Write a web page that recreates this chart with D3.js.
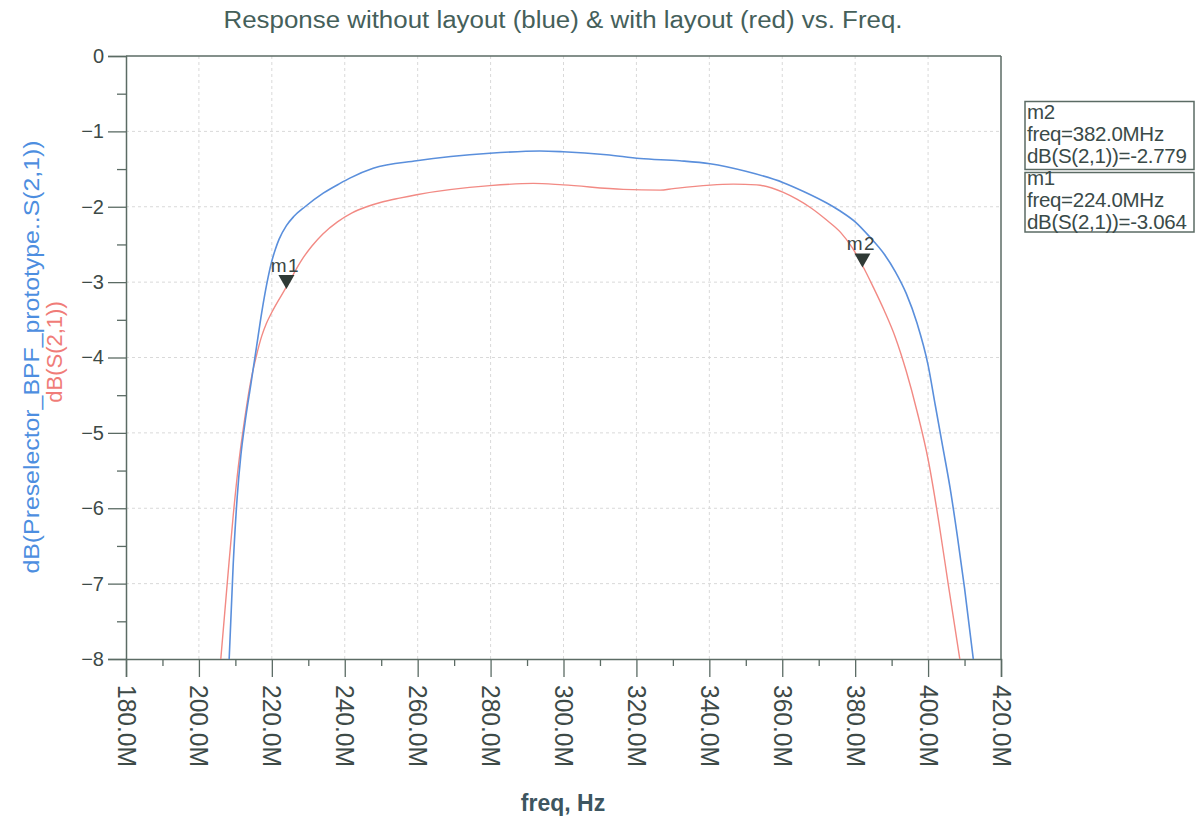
<!DOCTYPE html>
<html><head><meta charset="utf-8">
<script src="https://cdn.jsdelivr.net/npm/d3@7"></script>
<style>body{margin:0;background:#fff;font-family:"Liberation Sans",Arial,sans-serif;}</style>
</head><body>
<svg id="c" width="1202" height="820"></svg>
<script>
// Frequencies in MHz, values in dB
const blueFreq = [208.3,209.4,210.5,211.5,212.6,214.3,215.8,217.2,219.0,220.0,221.0,222.0,224.0,226.0,229.1,234.1,238.7,241.4,247.8,259.7,279.8,293.5,299.9,311.8,321.0,331.9,340.2,350.0,360.3,366.0,372.2,376.0,380.0,384.0,388.0,391.0,394.0,397.0,400.0,402.0,404.0,406.0,408.0,410.0,412.4];
const blueDb   = [-8.0,-6.75,-5.85,-5.3,-4.88,-4.34,-3.86,-3.41,-2.93,-2.72,-2.56,-2.43,-2.25,-2.13,-2.0,-1.82,-1.69,-1.62,-1.49,-1.39,-1.29,-1.26,-1.27,-1.31,-1.36,-1.39,-1.43,-1.53,-1.68,-1.8,-1.95,-2.06,-2.2,-2.4,-2.63,-2.86,-3.15,-3.55,-4.1,-4.64,-5.18,-5.72,-6.36,-7.06,-8.0];
const redFreq  = [206.0,207.9,209.4,210.8,212.6,214.2,215.8,217.2,218.5,220.0,224.0,228.0,231.0,234.0,238.0,242.0,246.0,250.0,255.0,259.7,279.8,291.7,299.9,316.4,326.5,330.1,346.6,353.0,360.3,364.0,368.0,372.0,376.0,379.0,382.0,385.0,388.0,391.0,394.0,397.0,400.0,403.0,405.5,408.7];
const redDb    = [-8.0,-6.92,-6.1,-5.45,-4.8,-4.32,-3.97,-3.72,-3.55,-3.4,-3.064,-2.72,-2.52,-2.36,-2.2,-2.08,-2.0,-1.94,-1.885,-1.84,-1.72,-1.69,-1.71,-1.77,-1.78,-1.76,-1.70,-1.71,-1.81,-1.9,-2.02,-2.17,-2.34,-2.53,-2.779,-3.07,-3.38,-3.73,-4.18,-4.72,-5.35,-6.2,-7.0,-8.0];
const xTicks = [180,200,220,240,260,280,300,320,340,360,380,400,420];
const xTickLabels = ["180.0M","200.0M","220.0M","240.0M","260.0M","280.0M","300.0M","320.0M","340.0M","360.0M","380.0M","400.0M","420.0M"];
const yTicks = [0,-1,-2,-3,-4,-5,-6,-7,-8];
const markerNames = ["m1","m2"];
const markerFreq = [224.0,382.0];
const markerDb = [-3.064,-2.779];
const legendLines = [["m2","freq=382.0MHz","dB(S(2,1))=-2.779"],["m1","freq=224.0MHz","dB(S(2,1))=-3.064"]];

const FONT="Liberation Sans, Arial, sans-serif";
const svg = d3.select("#c");
const L=126,R=1001,T=56,B=659;
const x = d3.scaleLinear().domain([180,420]).range([L,R]);
const y = d3.scaleLinear().domain([-8,0]).range([B,T]);
const axisCol="#5b6b64", textCol="#3d4a47";

// grid
const g = svg.append("g");
g.selectAll(".vg").data(xTicks.slice(1,-1)).enter().append("line")
 .attr("x1",d=>x(d)).attr("x2",d=>x(d)).attr("y1",T).attr("y2",B)
 .attr("stroke","#d9d9d9").attr("stroke-dasharray","3,3");
g.selectAll(".hg").data(yTicks.slice(1,-1)).enter().append("line")
 .attr("y1",d=>y(d)).attr("y2",d=>y(d)).attr("x1",L).attr("x2",R)
 .attr("stroke","#d9d9d9").attr("stroke-dasharray","3,3");

// frame top/right
svg.append("line").attr("x1",L).attr("x2",R).attr("y1",T).attr("y2",T).attr("stroke",axisCol).attr("stroke-width",1.5);
svg.append("line").attr("x1",R).attr("x2",R).attr("y1",T).attr("y2",B).attr("stroke",axisCol).attr("stroke-width",1.5);

// y axis
const yAxis = d3.axisLeft(y).tickValues(yTicks).tickSize(18).tickPadding(4).tickFormat(d3.format("d"));
const ya = svg.append("g").attr("transform",`translate(${L},0)`).call(yAxis);
ya.select(".domain").attr("stroke",axisCol).attr("stroke-width",1.5);
ya.selectAll(".tick line").attr("stroke",axisCol).attr("stroke-width",1.3);
ya.selectAll(".tick text").attr("fill",textCol).style("font-size","20px").style("font-family",FONT);
const yMinor = d3.range(-7.5,0,1);
svg.append("g").attr("transform",`translate(${L},0)`).call(d3.axisLeft(y).tickValues(yMinor).tickSize(9).tickFormat(""))
 .call(s=>{s.select(".domain").remove();s.selectAll("line").attr("stroke",axisCol).attr("stroke-width",1.3);});

// x axis
const xAxis = d3.axisBottom(x).tickValues(xTicks).tickSize(18).tickFormat((d,i)=>xTickLabels[i]);
const xa = svg.append("g").attr("transform",`translate(0,${B})`).call(xAxis);
xa.select(".domain").attr("stroke",axisCol).attr("stroke-width",1.5);
xa.selectAll(".tick line").attr("stroke",axisCol).attr("stroke-width",1.3);
xa.selectAll(".tick text").attr("fill",textCol).style("font-size","25px").style("font-family",FONT)
 .attr("transform","rotate(90)").attr("text-anchor","start").attr("x",26).attr("y",0).attr("dy","0.36em")
 .attr("textLength",82).attr("lengthAdjust","spacingAndGlyphs");
const xMinor = d3.range(190,420,20);
svg.append("g").attr("transform",`translate(0,${B})`).call(d3.axisBottom(x).tickValues(xMinor).tickSize(7).tickFormat(""))
 .call(s=>{s.select(".domain").remove();s.selectAll("line").attr("stroke",axisCol).attr("stroke-width",1.3);});

// clip
svg.append("clipPath").attr("id","clip").append("rect").attr("x",L).attr("y",T).attr("width",R-L).attr("height",B-T);
const line = d3.line().x(d=>x(d[0])).y(d=>y(d[1])).curve(d3.curveMonotoneX);
const blue = blueFreq.map((f,i)=>[f,blueDb[i]]);
const red = redFreq.map((f,i)=>[f,redDb[i]]);
const pl = svg.append("g").attr("clip-path","url(#clip)");
pl.append("path").datum(red).attr("d",line).attr("fill","none").attr("stroke","#f28a84").attr("stroke-width",1.4);
pl.append("path").datum(blue).attr("d",line).attr("fill","none").attr("stroke","#5a8fdc").attr("stroke-width",1.6);

// markers
markerNames.forEach((m,i)=>{
  const px=x(markerFreq[i]), py=y(markerDb[i]);
  svg.append("path").attr("d",`M${px},${py+2} L${px-8},${py-12} L${px+8},${py-12} Z`).attr("fill","#2f3a36");
  svg.append("text").attr("x",px-1).attr("y",py-15).attr("text-anchor","middle").attr("fill","#3a4543")
   .style("font-size","19px").style("font-family",FONT).style("letter-spacing","1.5px").text(m);
});

// legend boxes
const boxTop=[101.5,172.5], boxH=[68,59.5], firstBase=[119,185];
legendLines.forEach((lines,i)=>{
  svg.append("rect").attr("x",1025).attr("y",boxTop[i]).attr("width",169).attr("height",boxH[i])
   .attr("fill","none").attr("stroke","#5b6b64").attr("stroke-width",1.5);
  lines.forEach((t,j)=>{
    svg.append("text").attr("x",1027).attr("y",firstBase[i]+j*22).attr("fill","#3a4a48")
     .style("font-size","20.5px").style("font-family",FONT).style("letter-spacing","-0.3px").text(t);
  });
});

// title
svg.append("text").attr("x",563).attr("y",28).attr("text-anchor","middle").attr("fill","#45605a")
 .style("font-size","23px").style("font-family",FONT).attr("textLength",679).attr("lengthAdjust","spacingAndGlyphs")
 .text("Response without layout (blue) & with layout (red) vs. Freq.");

// x title
svg.append("text").attr("x",563).attr("y",811).attr("text-anchor","middle").attr("fill","#3d5560")
 .style("font-size","23px").style("font-family",FONT).style("font-weight","bold").text("freq, Hz");

// y titles
svg.append("text").attr("transform","translate(39,357) rotate(-90)").attr("text-anchor","middle").attr("fill","#4d8ee0")
 .style("font-size","22px").style("font-family",FONT).attr("textLength",433).attr("lengthAdjust","spacingAndGlyphs")
 .text("dB(Preselector_BPF_prototype..S(2,1))");
svg.append("text").attr("transform","translate(62,352) rotate(-90)").attr("text-anchor","middle").attr("fill","#f07c78")
 .style("font-size","22px").style("font-family",FONT).text("dB(S(2,1))");
</script>
</body></html>
